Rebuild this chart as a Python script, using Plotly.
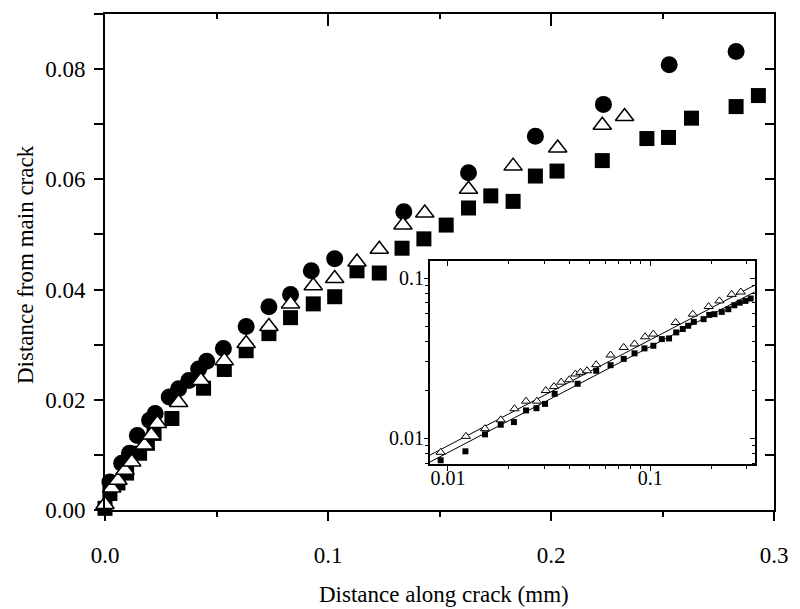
import plotly.graph_objects as go
import math

# ---- main plot data (mm) ----
circ_x = [0.0022, 0.0075, 0.011, 0.0145, 0.020, 0.0225, 0.0288, 0.033, 0.0376, 0.042, 0.0456,
          0.0531, 0.0633, 0.0735, 0.0832, 0.0925, 0.103, 0.134, 0.163, 0.193, 0.2235, 0.253, 0.283]
circ_y = [0.0051, 0.0085, 0.0103, 0.0135, 0.0163, 0.0175, 0.0205, 0.022, 0.0235, 0.0256, 0.027,
          0.0293, 0.0333, 0.0369, 0.0391, 0.0434, 0.0456, 0.0541, 0.0612, 0.0678, 0.0736, 0.0808, 0.0832]

sq_x = [0.0, 0.0022, 0.0058, 0.0097, 0.0155, 0.019, 0.022, 0.030, 0.0442, 0.0535, 0.0633, 0.0735,
        0.0832, 0.0934, 0.103, 0.113, 0.123, 0.1332, 0.143, 0.153, 0.163, 0.173, 0.183, 0.193,
        0.2027, 0.223, 0.243, 0.2527, 0.263, 0.283, 0.293]
sq_y = [0.0003, 0.003, 0.0049, 0.0067, 0.0103, 0.0121, 0.0139, 0.0166, 0.0221, 0.0255, 0.0289, 0.032,
        0.0349, 0.0374, 0.0387, 0.0434, 0.043, 0.0475, 0.0492, 0.0517, 0.0548, 0.057, 0.056, 0.0606,
        0.0615, 0.0634, 0.0674, 0.0676, 0.0711, 0.0732, 0.0752]

tri_x = [0.0, 0.003, 0.0058, 0.009, 0.012, 0.0177, 0.0208, 0.0235, 0.033, 0.043, 0.0535, 0.0633,
         0.0735, 0.0832, 0.0934, 0.103, 0.113, 0.123, 0.1336, 0.1434, 0.163, 0.183, 0.203, 0.223, 0.233]
tri_y = [0.001, 0.004, 0.0054, 0.0072, 0.0087, 0.0118, 0.0136, 0.0157, 0.0195, 0.0235, 0.0271, 0.0302,
         0.0333, 0.0374, 0.0407, 0.042, 0.045, 0.0473, 0.0517, 0.0539, 0.0582, 0.0624, 0.0657, 0.0698, 0.0714]

# ---- inset (log-log) data ----
in_tri_x = [0.0092, 0.01227, 0.01524, 0.01824, 0.02134, 0.02433, 0.02754, 0.03048, 0.03345, 0.0363,
            0.0398, 0.0427, 0.0452, 0.0487, 0.0541, 0.0637, 0.0740, 0.0837, 0.0944, 0.1037, 0.1337,
            0.1625, 0.1946, 0.220, 0.253, 0.2807]
in_tri_y = [0.00818, 0.01029, 0.01149, 0.01305, 0.01529, 0.01706, 0.01706, 0.01986, 0.02104, 0.0224,
            0.0232, 0.0252, 0.0258, 0.0264, 0.0288, 0.0331, 0.0369, 0.0388, 0.0430, 0.0447, 0.0528,
            0.0595, 0.0664, 0.0720, 0.0791, 0.0818]

in_sq_x = [0.0092, 0.0122, 0.01524, 0.01824, 0.0212, 0.02433, 0.0274, 0.0302, 0.0337, 0.0438, 0.0541,
           0.0637, 0.0740, 0.0837, 0.0937, 0.1037, 0.1142, 0.124, 0.1346, 0.145, 0.1542, 0.1644, 0.1837,
           0.196, 0.208, 0.226, 0.2434, 0.2606, 0.2774, 0.296, 0.314, 0.334]
in_sq_y = [0.0073, 0.0083, 0.01059, 0.01216, 0.01263, 0.01493, 0.01542, 0.0164, 0.01895, 0.0219, 0.0264,
           0.0286, 0.0313, 0.0339, 0.0364, 0.0378, 0.0416, 0.0420, 0.0458, 0.0481, 0.0504, 0.0533, 0.0554,
           0.0589, 0.0595, 0.0615, 0.0639, 0.0676, 0.0702, 0.0720, 0.0745, 0.0768]

# power-law fit lines (end points)
fit_tri_x = [0.00812, 0.328]
fit_tri_y = [0.00784, 0.0901]
fit_sq_x = [0.00812, 0.328]
fit_sq_y = [0.0071, 0.0818]

FONT = "Liberation Serif"
fig = go.Figure()

fig.add_trace(go.Scatter(x=circ_x, y=circ_y, mode="markers", cliponaxis=False,
                         marker=dict(symbol="circle", size=17, color="black", line=dict(width=0))))
fig.add_trace(go.Scatter(x=sq_x, y=sq_y, mode="markers", cliponaxis=False,
                         marker=dict(symbol="square", size=15, color="black", line=dict(width=0))))
fig.add_trace(go.Scatter(x=tri_x, y=tri_y, mode="markers", cliponaxis=False,
                         marker=dict(symbol="triangle-up", size=16, color="white",
                                     line=dict(width=1.5, color="black"))))
# dummy for top/right mirror axes
fig.add_trace(go.Scatter(x=[None], y=[None], xaxis="x3", yaxis="y3", showlegend=False))

# inset
fig.add_trace(go.Scatter(x=fit_tri_x, y=fit_tri_y, mode="lines", xaxis="x2", yaxis="y2",
                         line=dict(color="black", width=1)))
fig.add_trace(go.Scatter(x=fit_sq_x, y=fit_sq_y, mode="lines", xaxis="x2", yaxis="y2",
                         line=dict(color="black", width=1)))
fig.add_trace(go.Scatter(x=in_sq_x, y=in_sq_y, mode="markers", xaxis="x2", yaxis="y2", cliponaxis=False,
                         marker=dict(symbol="square", size=6, color="black", line=dict(width=0))))
fig.add_trace(go.Scatter(x=in_tri_x, y=in_tri_y, mode="markers", xaxis="x2", yaxis="y2", cliponaxis=False,
                         marker=dict(symbol="triangle-up", size=8, color="white",
                                     line=dict(width=1, color="black"))))
fig.add_trace(go.Scatter(x=[None], y=[None], xaxis="x4", yaxis="y4", showlegend=False))

ax_common = dict(showline=True, linecolor="black", linewidth=2, showgrid=False, zeroline=False,
                 tickcolor="black", tickfont=dict(family=FONT, size=23, color="black"))

in_xr = [math.log10(0.00812), math.log10(0.331)]
in_yr = [math.log10(0.0069), math.log10(0.1277)]
x_minor = [0.02, 0.03, 0.04, 0.05, 0.06, 0.07, 0.08, 0.09, 0.2, 0.3]
y_minor = [0.007, 0.008, 0.009, 0.02, 0.03, 0.04, 0.05, 0.06, 0.07, 0.08, 0.09]

fig.update_layout(
    width=800, height=609,
    margin=dict(l=105, r=17, t=12, b=99),
    paper_bgcolor="white", plot_bgcolor="white",
    showlegend=False,
    xaxis=dict(**ax_common, range=[0, 0.3], dtick=0.1, tick0=0, tickformat=".1f",
               ticks="outside", ticklen=9, tickwidth=1.5, mirror=True, ticklabelstandoff=14,
               minor=dict(dtick=0.05, tick0=0, ticks="outside", ticklen=5, tickwidth=1.5, tickcolor="black")),
    yaxis=dict(**ax_common, range=[0, 0.09], dtick=0.02, tick0=0, tickformat=".2f",
               ticks="outside", ticklen=9, tickwidth=1.5, mirror=True, ticklabelstandoff=4,
               minor=dict(dtick=0.01, tick0=0, ticks="outside", ticklen=9, tickwidth=1.5, tickcolor="black")),
    xaxis3=dict(overlaying="x", side="top", anchor="y3", range=[0, 0.3], dtick=0.1, tick0=0,
                ticks="inside", ticklen=12, tickwidth=1.5, tickcolor="black", showticklabels=False,
                showgrid=False, zeroline=False, showline=False,
                minor=dict(dtick=0.05, tick0=0, ticks="inside", ticklen=5, tickwidth=1.5, tickcolor="black")),
    yaxis3=dict(overlaying="y", side="right", anchor="x3", range=[0, 0.09], dtick=0.01, tick0=0,
                ticks="inside", ticklen=9, tickwidth=1.5, tickcolor="black", showticklabels=False,
                showgrid=False, zeroline=False, showline=False),
    xaxis2=dict(showline=True, linecolor="black", linewidth=1.5, mirror=True, showgrid=False, zeroline=False,
                type="log", range=in_xr, domain=[0.4853, 0.972], anchor="y2",
                tickmode="array", tickvals=[0.01, 0.1], ticktext=["0.01", "0.1"],
                ticks="outside", ticklen=5, tickwidth=1, tickcolor="black", ticklabelstandoff=-10,
                tickfont=dict(family=FONT, size=20, color="black"),
                minor=dict(tickmode="array", tickvals=x_minor, ticks="outside", ticklen=3, tickwidth=1,
                           tickcolor="black")),
    yaxis2=dict(showline=True, linecolor="black", linewidth=1.5, mirror=True, showgrid=False, zeroline=False,
                type="log", range=in_yr, domain=[0.0924, 0.502], anchor="x2",
                tickmode="array", tickvals=[0.01, 0.1], ticktext=["0.01", "0.1"],
                ticks="outside", ticklen=4, tickwidth=1, tickcolor="black", ticklabelstandoff=-4,
                tickfont=dict(family=FONT, size=20, color="black"),
                minor=dict(tickmode="array", tickvals=y_minor, ticks="outside", ticklen=3, tickwidth=1,
                           tickcolor="black")),
    xaxis4=dict(overlaying="x2", side="top", anchor="y4", type="log", range=in_xr,
                tickmode="array", tickvals=[0.01, 0.1], ticks="inside", ticklen=5, tickwidth=1,
                tickcolor="black", showticklabels=False, showgrid=False, zeroline=False, showline=False,
                minor=dict(tickmode="array", tickvals=x_minor, ticks="inside", ticklen=3, tickwidth=1,
                           tickcolor="black")),
    yaxis4=dict(overlaying="y2", side="right", anchor="x4", type="log", range=in_yr,
                tickmode="array", tickvals=[0.01, 0.1], ticks="inside", ticklen=5, tickwidth=1,
                tickcolor="black", showticklabels=False, showgrid=False, zeroline=False, showline=False,
                minor=dict(tickmode="array", tickvals=y_minor, ticks="inside", ticklen=3, tickwidth=1,
                           tickcolor="black")),
    annotations=[
        dict(text="Distance along crack (mm)", xref="paper", yref="paper", x=0.507, y=-0.1707,
             xanchor="center", yanchor="middle", showarrow=False,
             font=dict(family=FONT, size=23, color="black")),
        dict(text="Distance from main crack", xref="paper", yref="paper", x=-0.118, y=0.494,
             xanchor="center", yanchor="middle", showarrow=False, textangle=-90,
             font=dict(family=FONT, size=23, color="black")),
    ],
)

fig.write_html("out.html")
